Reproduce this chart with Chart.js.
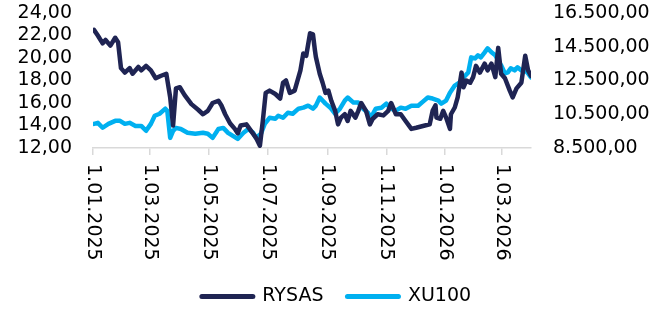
<!DOCTYPE html>
<html>
<head>
<meta charset="utf-8">
<script src="https://cdn.jsdelivr.net/npm/chart.js@4/dist/chart.umd.min.js"></script>
<style>
  html, body { margin: 0; padding: 0; background: #fff; }
  #wrap { width: 649px; height: 316px; }
</style>
</head>
<body>
<div id="wrap"><canvas id="chart" width="649" height="316"></canvas></div>
<script>
// x = days since 1.01.2025
const tickDays = [0, 59, 120, 181, 243, 304, 365, 424];
const tickLabels = ['1.01.2025', '1.03.2025', '1.05.2025', '1.07.2025', '1.09.2025', '1.11.2025', '1.01.2026', '1.03.2026'];

const rysasDays = [1, 5, 10, 13, 18, 23, 26, 29, 33, 38, 41, 47, 50, 55, 60, 65, 70, 76, 80, 83,
  86, 90, 95, 102, 109, 114, 119, 124, 130, 133, 137, 142, 147, 150, 153, 159, 164, 169, 173, 176,
  179, 183, 189, 194, 197, 200, 204, 209, 215, 218, 221, 225, 228, 230, 231, 235, 238, 241, 244, 247,
  251, 254, 257, 261, 264, 267, 272, 275, 278, 283, 287, 290, 295, 301, 306, 309, 314, 319, 324, 330,
  335, 344, 349, 352, 355, 356, 360, 363, 366, 370, 371, 375, 378, 382, 384, 387, 391, 394, 397, 401,
  406, 409, 413, 417, 420, 423, 427, 432, 435, 439, 444, 448, 451, 454];
const rysasValues = [22.5, 22.0, 21.3, 21.6, 21.1, 21.8, 21.4, 19.1, 18.7, 19.1, 18.6, 19.2, 18.9, 19.3, 18.9, 18.2, 18.4, 18.6, 16.5, 14.0,
  17.3, 17.4, 16.7, 15.9, 15.4, 15.0, 15.3, 16.0, 16.2, 15.8, 15.0, 14.2, 13.7, 13.3, 14.0, 14.1, 13.5, 12.9, 12.2, 14.4,
  16.9, 17.1, 16.8, 16.4, 17.8, 18.0, 16.9, 17.1, 18.9, 20.4, 20.2, 22.2, 22.1, 20.7, 20.1, 18.6, 17.8, 16.9, 17.1, 16.2,
  15.3, 14.1, 14.7, 15.0, 14.4, 15.3, 14.7, 15.3, 16.0, 15.3, 14.1, 14.6, 15.0, 14.9, 15.3, 16.0, 15.0, 15.0, 14.4, 13.7,
  13.8, 14.0, 14.1, 15.3, 15.8, 14.7, 14.6, 15.3, 14.7, 13.7, 15.0, 15.6, 16.5, 18.7, 17.4, 18.0, 17.8, 18.3, 19.3, 18.7,
  19.5, 18.9, 19.5, 18.3, 20.9, 18.6, 18.2, 17.1, 16.5, 17.3, 17.8, 20.2, 18.9, 18.4];

const xu100Days = [1, 5, 10, 16, 23, 28, 33, 38, 44, 50, 55, 60, 64, 69, 75, 77, 80, 83, 86, 91,
  98, 106, 114, 119, 124, 130, 135, 140, 145, 150, 156, 161, 166, 169, 174, 178, 183, 189, 192, 197,
  202, 207, 213, 218, 223, 228, 231, 235, 241, 246, 251, 256, 261, 264, 270, 275, 280, 285, 288, 293,
  299, 304, 309, 314, 319, 324, 330, 337, 342, 347, 352, 358, 361, 366, 370, 375, 380, 386, 389, 392,
  396, 399, 402, 406, 409, 413, 417, 420, 423, 427, 430, 433, 437, 440, 444, 448, 451, 454];
const xu100Values = [9930, 9990, 9700, 9930, 10110, 10110, 9930, 9990, 9810, 9810, 9520, 9930, 10410, 10530, 10830, 10710, 9100, 9520, 9690, 9630,
  9400, 9340, 9400, 9340, 9100, 9630, 9690, 9400, 9220, 9040, 9400, 9630, 9400, 9100, 9340, 9930, 10290, 10230, 10410, 10290,
  10590, 10530, 10830, 10890, 11010, 10830, 11010, 11490, 11130, 10890, 10530, 10830, 11310, 11490, 11190, 11190, 10830, 10590, 10290, 10830,
  10890, 11130, 10830, 10710, 10890, 10830, 11010, 11000, 11250, 11490, 11430, 11310, 11130, 11310, 11780, 12200, 12380, 12800, 12980, 13870,
  13810, 13990, 13870, 14170, 14410, 14170, 13990, 13690, 13400, 12920, 12980, 13220, 13100, 13280, 13100, 13100, 12920, 12680];

const toPoints = (days, vals) => days.map((d, i) => ({ x: d, y: vals[i] }));

function fmtTr(v) {
  const parts = v.toFixed(2).split('.');
  const intPart = parts[0].replace(/\B(?=(\d{3})+(?!\d))/g, '.');
  return intPart + ',' + parts[1];
}

Chart.defaults.font.family = 'DejaVu Sans';
Chart.defaults.font.size = 19;
Chart.defaults.color = '#000';

// x tick labels read top-to-bottom, so draw them ourselves
const rotatedLabels = {
  id: 'rotatedLabels',
  afterLayout(chart) {
    chart.legend.left += 12;
    chart.legend.right += 12;
  },
  afterDraw(chart) {
    const xs = chart.scales.x;
    const ctx = chart.ctx;
    ctx.save();
    ctx.font = '19px "DejaVu Sans"';
    ctx.fillStyle = '#000';
    ctx.textAlign = 'left';
    ctx.textBaseline = 'middle';
    tickDays.forEach((d, i) => {
      ctx.save();
      ctx.translate(xs.getPixelForValue(d), xs.top + 16);
      ctx.rotate(Math.PI / 2);
      ctx.fillText(tickLabels[i], 0, 0);
      ctx.restore();
    });
    ctx.restore();
  }
};

const noPad = scale => { scale.paddingTop = 0; scale.paddingBottom = 0; };

new Chart(document.getElementById('chart'), {
  type: 'line',
  data: {
    datasets: [{
      label: 'RYSAS',
      data: toPoints(rysasDays, rysasValues),
      yAxisID: 'y',
      borderColor: '#1f2453',
      backgroundColor: '#1f2453',
      borderWidth: 4.5,
      pointRadius: 0,
      tension: 0,
      borderJoinStyle: 'round',
      borderCapStyle: 'round'
    }, {
      label: 'XU100',
      data: toPoints(xu100Days, xu100Values),
      yAxisID: 'y2',
      borderColor: '#00b0f0',
      backgroundColor: '#00b0f0',
      borderWidth: 4.5,
      pointRadius: 0,
      tension: 0,
      borderJoinStyle: 'round',
      borderCapStyle: 'round'
    }]
  },
  options: {
    responsive: false,
    animation: false,
    layout: { padding: { top: 13, bottom: 0 } },
    plugins: {
      tooltip: { enabled: false },
      legend: {
        position: 'bottom',
        labels: {
          usePointStyle: true,
          pointStyle: 'line',
          pointStyleWidth: 51,
          padding: 24,
          color: '#000',
          font: { size: 19 },
          generateLabels(chart) {
            const items = Chart.defaults.plugins.legend.labels.generateLabels(chart);
            items.forEach(it => { it.lineWidth = 5; it.lineCap = 'round'; });
            return items;
          }
        }
      }
    },
    scales: {
      x: {
        type: 'linear',
        min: 0,
        max: 454,
        afterBuildTicks(scale) {
          scale.ticks = tickDays.map(v => ({ value: v }));
        },
        afterFit(scale) { scale.height = 115; },
        ticks: { display: false },
        grid: { drawOnChartArea: false, drawTicks: true, tickLength: 7, color: '#d9d9d9', lineWidth: 1.5 },
        border: { display: true, color: '#d9d9d9', width: 1.5 }
      },
      y: {
        position: 'left',
        min: 12,
        max: 24,
        afterFit(scale) { scale.width = 93; noPad(scale); },
        ticks: { stepSize: 2, padding: 21, autoSkip: false, callback: v => fmtTr(v) },
        grid: { display: false, drawTicks: false },
        border: { display: false }
      },
      y2: {
        position: 'right',
        min: 8500,
        max: 16500,
        afterFit(scale) { scale.width = 118; noPad(scale); },
        ticks: { stepSize: 2000, padding: 22, autoSkip: false, callback: v => fmtTr(v) },
        grid: { display: false, drawTicks: false },
        border: { display: false }
      }
    }
  },
  plugins: [rotatedLabels]
});
</script>
</body>
</html>
